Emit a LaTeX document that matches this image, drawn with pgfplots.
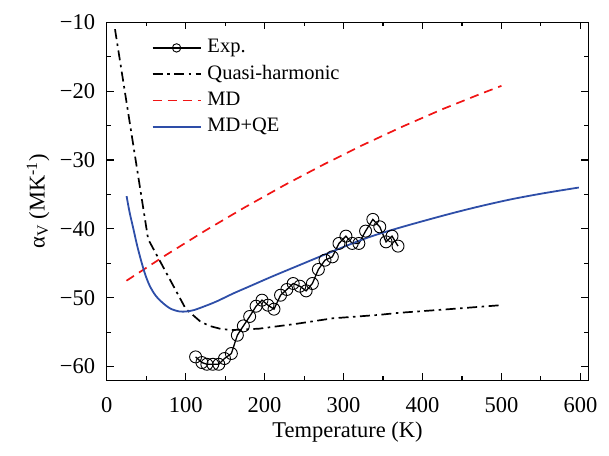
\documentclass[border=0pt]{standalone}
\usepackage{pgfplots}
\pgfplotsset{compat=1.18}
\usepackage{fontspec}
\setmainfont{Liberation Serif}
\definecolor{mdblue}{RGB}{46,78,168}
\definecolor{mdred}{RGB}{240,20,20}
\begin{document}
\begin{tikzpicture}
\begin{axis}[
  name=main,
  scale only axis,
  width=481.6bp, height=358bp,
  xmin=0, xmax=610, ymin=-62, ymax=-10,
  xtick={0,100,200,300,400,500,600},
  xticklabels={0,100,200,300,400,500,600},
  ytick={-60,-50,-40,-30,-20,-10},
  yticklabels={−60,−50,−40,−30,−20,−10},
  minor x tick num=1, minor y tick num=1,
  tick align=inside,
  major tick length=7bp, minor tick length=4bp,
  every tick/.style={black, line width=1.1bp},
  axis line style={line width=1.3bp},
  tick label style={font=\fontsize{22.5bp}{26bp}\selectfont, inner sep=0pt},
  xticklabel style={anchor=base, yshift=-31.7bp},
  yticklabel style={anchor=east, xshift=-11.5bp},
  every axis x label/.style={at={(axis description cs:0.5,-0.159)}, anchor=base},
  every axis y label/.style={at={(axis description cs:-0.1426,0.5)}, anchor=center, rotate=90},
  label style={font=\fontsize{22.5bp}{26bp}\selectfont},
  xlabel={Temperature (K)},
  ylabel={α\textsubscript{V} (MK\textsuperscript{-1})},
  legend style={draw=none, fill=none, at={(axis description cs:0.0934,0.955)}, anchor=north west,
    inner sep=0pt, outer sep=0pt,
    nodes={inner sep=0pt, text height=14.5bp, text depth=4.5bp},
    font=\fontsize{20.5bp}{24bp}\selectfont, row sep=7.3bp,
    /tikz/every odd column/.append style={column sep=6bp}},
  legend cell align=left,
  legend image code/.code={\draw[mark repeat=2,mark phase=2,mark size=4.2bp] plot coordinates {(0bp,0bp) (24bp,0bp) (48bp,0bp)};},
]
\addplot[black, line width=1.3bp, mark=o, mark size=6bp, mark options={solid, fill=white, line width=0.9bp}] coordinates {
(112.6,-58.60) (120.6,-59.42) (126.9,-59.67) (134.4,-59.67) (142.0,-59.67)
(149.2,-58.84) (157.9,-58.11) (165.5,-55.45) (173.1,-54.10) (181.1,-52.73)
(189.2,-51.24) (196.7,-50.36) (204.3,-51.09) (211.9,-51.67) (220.2,-49.64)
(228.2,-48.81) (236.2,-47.94) (244.6,-48.33) (252.6,-49.01) (260.5,-47.94)
(268.1,-45.90) (276.5,-44.55) (285.8,-44.07) (294.2,-42.12) (303.0,-41.06)
(311.0,-42.12) (319.4,-42.12) (327.9,-40.33) (337.1,-38.63) (345.9,-39.71)
(353.8,-41.89) (361.4,-41.06) (369.0,-42.51)
};
\addlegendentry{Exp.}
\addplot[black, line width=1.7bp, dash pattern=on 10bp off 4.5bp on 2.5bp off 4.5bp] coordinates {
(10.5,-11.0) (52.5,-41.5) (100,-51.6) (110,-52.6) (118,-53.4) (130,-54.1)
(145,-54.55) (160,-54.7) (193,-54.5) (240,-53.8) (286,-53.0) (344.6,-52.5)
(370,-52.2) (430,-51.7) (498,-51.1)
};
\addlegendentry{Quasi-harmonic}
\addplot[mdred, line width=1.7bp, dash pattern=on 9bp off 6bp] coordinates {
(25,-47.54) (75,-43.81) (125,-40.25) (175,-36.87) (225,-33.66) (275,-30.64)
(325,-27.79) (375,-25.13) (425,-22.63) (475,-20.33) (500,-19.23)
};
\addlegendentry{MD}
\addplot[mdblue, line width=1.8bp, smooth] coordinates {
(25.2,-35.25) (29,-37.6) (33.6,-39.9) (38.5,-42.4) (44,-44.8) (49,-46.7)
(54.6,-48.3) (62,-49.7) (71.4,-50.8) (81,-51.6) (92,-52.0) (101,-52.0)
(110.5,-51.8) (125,-51.2) (140,-50.5) (160,-49.4) (182,-48.3) (210,-46.9)
(245.6,-45.2) (287.7,-43.2) (330,-41.3) (372,-39.8) (428.7,-38.0) (470,-36.8)
(512.7,-35.7) (555,-34.8) (598,-34.0)
};
\addlegendentry{MD+QE}
\end{axis}
\pgfresetboundingbox
\path[use as bounding box] ([shift={(-106.7bp,-75bp)}]main.south west) rectangle ([shift={(20.7bp,22.3bp)}]main.north east);
\end{tikzpicture}
\end{document}
